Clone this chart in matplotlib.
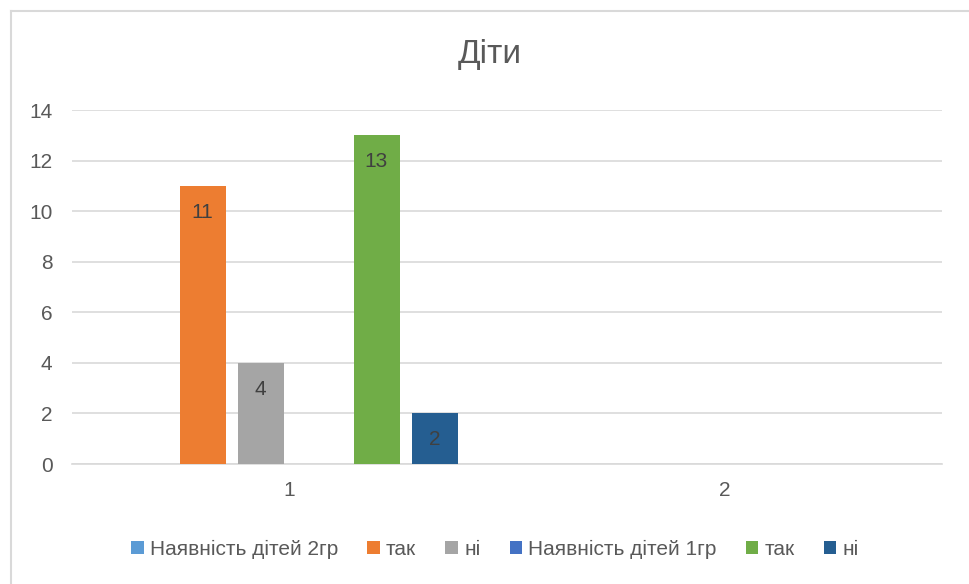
import numpy as np
import matplotlib.pyplot as plt
from matplotlib.patches import Patch
from matplotlib.lines import Line2D

plt.rcParams['font.family'] = ['Liberation Sans', 'DejaVu Sans']

# дані діаграми
categories = ['1', '2']
series_names = ['Наявність дітей 2гр', 'так', 'ні', 'Наявність дітей 1гр', 'так', 'ні']
series_values = [
    [np.nan, np.nan],  # Наявність дітей 2гр
    [11, np.nan],      # так
    [4, np.nan],       # ні
    [np.nan, np.nan],  # Наявність дітей 1гр
    [13, np.nan],      # так
    [2, np.nan],       # ні
]
colors = ['#5B9BD5', '#ED7D31', '#A5A5A5', '#4472C4', '#70AD47', '#255E91']
y_ticks = [0, 2, 4, 6, 8, 10, 12, 14]

fig = plt.figure(figsize=(9.69, 5.84), dpi=100)
ax = fig.add_axes([72 / 969, 1 - 464 / 584, 870 / 969, 354 / 584])

x = np.arange(len(categories))
step = 58 / 435
width = 46 / 435
n = len(series_names)
for i, (vals, col) in enumerate(zip(series_values, colors)):
    pos = x + (i - (n - 1) / 2) * step
    bars = ax.bar(pos, vals, width, color=col, zorder=3)
    for b, v in zip(bars, vals):
        if not np.isnan(v):
            ax.annotate(f'{v:g}', (b.get_x() + b.get_width() / 2, v),
                        xytext=(0, -12), textcoords='offset points',
                        ha='center', va='top', fontsize=15, color='#404040', zorder=4)

ax.set_xlim(-0.5, 1.5)
ax.set_ylim(0, 14)
ax.set_yticks(y_ticks)
ax.set_xticks(x)
ax.set_xticklabels(categories)
ax.yaxis.grid(True, color='#D9D9D9', linewidth=1.2, zorder=0)
ax.tick_params(axis='both', length=0, labelsize=15, labelcolor='#595959')
ax.tick_params(axis='y', pad=14)
ax.tick_params(axis='x', pad=12)
for s in ['top', 'right', 'left']:
    ax.spines[s].set_visible(False)
ax.spines['bottom'].set_color('#D9D9D9')
ax.spines['bottom'].set_linewidth(1.2)

fig.text(490 / 969, 1 - 54 / 584, 'Діти', ha='center', va='center',
         fontsize=24, color='#595959')

handles = [Patch(facecolor=c, edgecolor='none') for c in colors]
fig.legend(handles, series_names, loc='center', bbox_to_anchor=(495 / 969, 1 - 549 / 584),
           ncol=6, frameon=False, fontsize=15, labelcolor='#595959',
           handlelength=0.6, handleheight=0.6, handletextpad=0.3, columnspacing=1.4)

# рамка області діаграми
fig.add_artist(Line2D([10.5 / 969, 10.5 / 969], [0, 1 - 10.5 / 584], color='#D9D9D9', linewidth=1.5))
fig.add_artist(Line2D([10.5 / 969, 1], [1 - 10.5 / 584, 1 - 10.5 / 584], color='#D9D9D9', linewidth=1.5))

fig.savefig('out.png', dpi=100)
